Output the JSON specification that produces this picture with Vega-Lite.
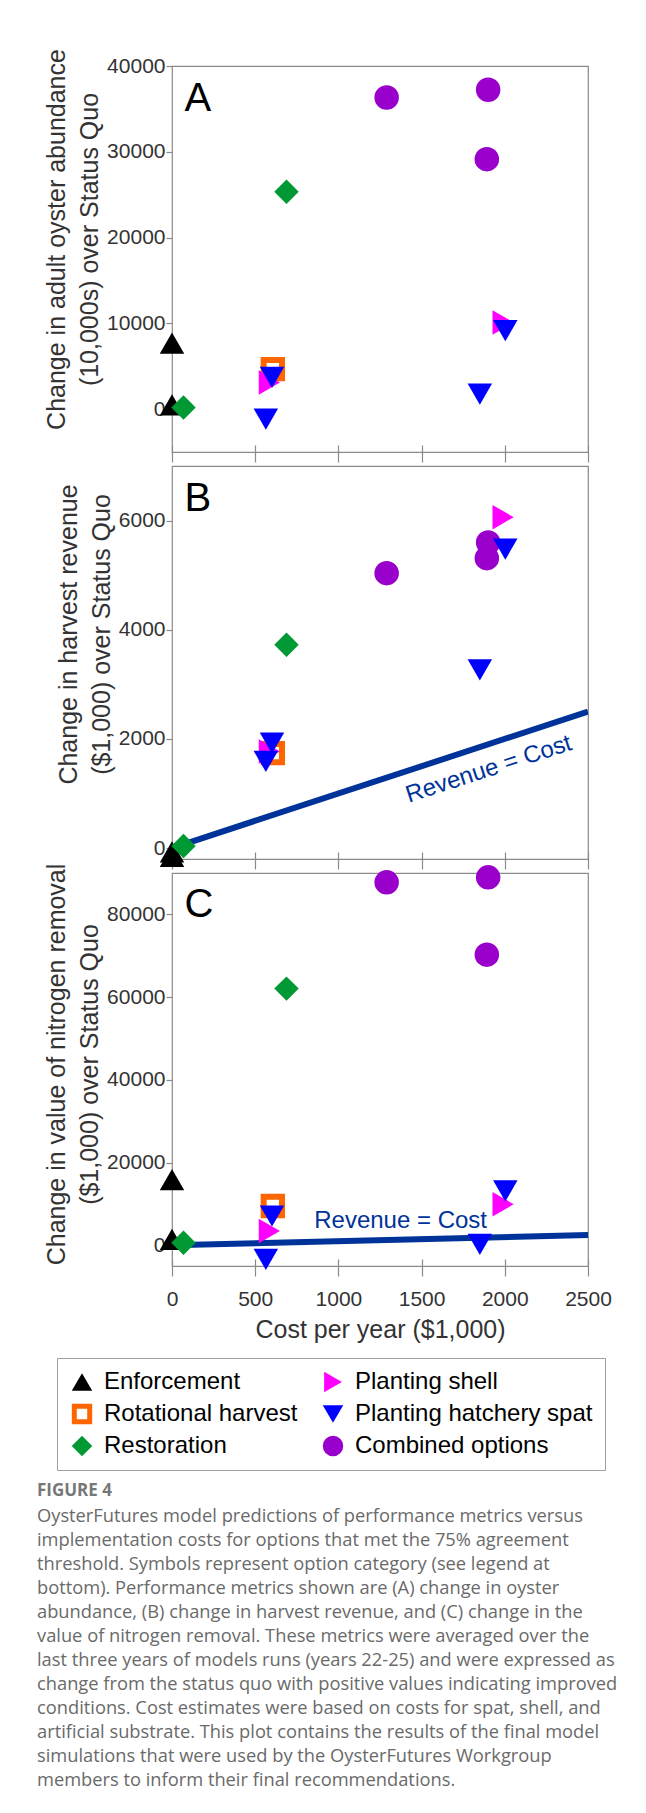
{
  "$schema": "https://vega.github.io/schema/vega-lite/v6.json",
  "padding": {"left": 37, "top": 47, "right": 5, "bottom": 5},
  "background": "white",
  "config": {
    "font": "Liberation Sans",
    "view": {"stroke": "#8a8a8a", "strokeWidth": 1.2},
    "axis": {"grid": false, "labelFlush": false},
    "legend": {
      "orient": "none",
      "legendX": -115,
      "legendY": 1292,
      "columns": 2,
      "title": null,
      "labelFont": "Liberation Sans",
      "labelFontSize": 24,
      "labelColor": "#000000",
      "labelLimit": 400,
      "symbolSize": 420,
      "symbolStrokeWidth": 5,
      "labelOffset": 9,
      "clipHeight": 24,
      "rowPadding": 8,
      "columnPadding": 22,
      "padding": 12,
      "strokeColor": "#a0a0a0"
    }
  },
  "title": {
    "text": "FIGURE 4",
    "subtitle": [
      "OysterFutures model predictions of performance metrics versus",
      "implementation costs for options that met the 75% agreement",
      "threshold. Symbols represent option category (see legend at",
      "bottom). Performance metrics shown are (A) change in oyster",
      "abundance, (B) change in harvest revenue, and (C) change in the",
      "value of nitrogen removal. These metrics were averaged over the",
      "last three years of models runs (years 22-25) and were expressed as",
      "change from the status quo with positive values indicating improved",
      "conditions. Cost estimates were based on costs for spat, shell, and",
      "artificial substrate. This plot contains the results of the final model",
      "simulations that were used by the OysterFutures Workgroup",
      "members to inform their final recommendations."
    ],
    "orient": "bottom",
    "anchor": "start",
    "frame": "group",
    "font": "Open Sans",
    "fontSize": 17,
    "fontWeight": "bold",
    "color": "#777777",
    "subtitleFont": "Open Sans",
    "subtitleFontSize": 18.3,
    "subtitleColor": "#6a6a6a",
    "subtitleLineHeight": 24,
    "subtitlePadding": 8,
    "limit": 700,
    "offset": 12,
    "dx": -135
  },
  "datasets": {
    "options": [
      {"category": "Combined options", "cost": 1290, "A": 36330, "B": 5037, "C": 87750},
      {"category": "Combined options", "cost": 1900, "A": 37230, "B": 5599, "C": 88960},
      {"category": "Combined options", "cost": 1892, "A": 29140, "B": 5311, "C": 70250},
      {"category": "Enforcement", "cost": 0, "A": 7700, "B": -150, "C": 15900},
      {"category": "Enforcement", "cost": 0, "A": 500, "B": -70, "C": 1450},
      {"category": "Restoration", "cost": 69, "A": 200, "B": 40, "C": 630},
      {"category": "Restoration", "cost": 688, "A": 25350, "B": 3725, "C": 62050},
      {"category": "Rotational harvest", "cost": 606, "A": 4660, "B": 1740, "C": 9510},
      {"category": "Planting shell", "cost": 585, "A": 3110, "B": 1771, "C": 3460},
      {"category": "Planting shell", "cost": 1990, "A": 10100, "B": 6062, "C": 9920},
      {"category": "Planting hatchery spat", "cost": 601, "A": 3690, "B": 1923, "C": 7090},
      {"category": "Planting hatchery spat", "cost": 564, "A": -1165, "B": 1588, "C": -3390},
      {"category": "Planting hatchery spat", "cost": 1850, "A": 1750, "B": 3266, "C": 240},
      {"category": "Planting hatchery spat", "cost": 2003, "A": 9140, "B": 5476, "C": 13140}
    ],
    "parity": [
      {"cost": 0, "B": 0, "C": 0},
      {"cost": 2500, "B": 2500, "C": 2500}
    ]
  },
  "spacing": 14,
  "bounds": "flush",
  "vconcat": [
    {
      "width": 416,
      "height": 386,
      "encoding": {
        "x": {"field": "cost", "type": "quantitative", "scale": {"domain": [0, 2500], "nice": false, "zero": false},
          "axis": {"values": [0, 500, 1000, 1500, 2000, 2500], "labels": false, "title": null, "domain": false, "tickSize": 17, "offset": -7, "tickColor": "#8a8a8a", "tickWidth": 1.2}},
        "y": {"field": "A", "type": "quantitative", "scale": {"domain": [-5000, 40000], "nice": false, "zero": false},
          "axis": {"values": [0, 10000, 20000, 30000, 40000], "format": "d", "domain": false, "tickSize": 6, "tickColor": "#8a8a8a", "tickWidth": 1.2,
            "labelFontSize": 21, "labelColor": "#333333", "labelPadding": 1,
            "title": ["Change in adult oyster abundance", "(10,000s) over Status Quo"],
            "titleFontSize": 25, "titleFontWeight": "normal", "titleColor": "#333333", "titleLineHeight": 33, "titlePadding": 4, "titleY": 173}}
      },
      "layer": [
        {
          "data": {"name": "options"},
          "mark": {"type": "point", "size": 600, "strokeWidth": 6, "opacity": 1},
          "encoding": {
            "shape": {"field": "category", "type": "nominal",
              "scale": {"domain": ["Enforcement", "Rotational harvest", "Restoration", "Planting shell", "Planting hatchery spat", "Combined options"],
                "range": ["triangle-up", "M-0.75,-0.75L0.75,-0.75L0.75,0.75L-0.75,0.75Z", "diamond", "triangle-right", "triangle-down", "circle"]}},
            "fill": {"field": "category", "type": "nominal",
              "scale": {"domain": ["Enforcement", "Rotational harvest", "Restoration", "Planting shell", "Planting hatchery spat", "Combined options"],
                "range": ["#000000", "#ffffff", "#009933", "#ff00ff", "#0000ff", "#9900cc"]}},
            "stroke": {"field": "category", "type": "nominal",
              "scale": {"domain": ["Enforcement", "Rotational harvest", "Restoration", "Planting shell", "Planting hatchery spat", "Combined options"],
                "range": ["transparent", "#ff6600", "transparent", "transparent", "transparent", "transparent"]}}
          }
        },
        {
          "data": {"values": [{"cost": 75, "A": 34800, "label": "A"}]},
          "mark": {"type": "text", "align": "left", "baseline": "alphabetic", "fontSize": 40, "color": "#000000"},
          "encoding": {"text": {"field": "label"}}
        }
      ]
    },
    {
      "width": 416,
      "height": 393,
      "encoding": {
        "x": {"field": "cost", "type": "quantitative", "scale": {"domain": [0, 2500], "nice": false, "zero": false},
          "axis": {"values": [0, 500, 1000, 1500, 2000, 2500], "labels": false, "title": null, "domain": false, "tickSize": 17, "offset": -7, "tickColor": "#8a8a8a", "tickWidth": 1.2}},
        "y": {"field": "B", "type": "quantitative", "scale": {"domain": [-200, 7000], "nice": false, "zero": false},
          "axis": {"values": [0, 2000, 4000, 6000], "format": "d", "domain": false, "tickSize": 6, "tickColor": "#8a8a8a", "tickWidth": 1.2,
            "labelFontSize": 21, "labelColor": "#333333", "labelPadding": 1,
            "title": ["Change in harvest revenue", "($1,000) over Status Quo"],
            "titleFontSize": 25, "titleFontWeight": "normal", "titleColor": "#333333", "titleLineHeight": 33, "titlePadding": 4, "titleY": 168}}
      },
      "layer": [
        {
          "data": {"name": "parity"},
          "mark": {"type": "line", "color": "#003399", "strokeWidth": 6, "clip": true},
          "encoding": {}
        },
        {
          "data": {"name": "options"},
          "mark": {"type": "point", "size": 600, "strokeWidth": 6, "opacity": 1},
          "encoding": {
            "shape": {"field": "category", "type": "nominal"},
            "fill": {"field": "category", "type": "nominal"},
            "stroke": {"field": "category", "type": "nominal"}
          }
        },
        {
          "data": {"values": [{"cost": 1904, "B": 1442, "label": "Revenue = Cost"}]},
          "mark": {"type": "text", "align": "center", "baseline": "middle", "fontSize": 24, "angle": -18, "color": "#003399"},
          "encoding": {"text": {"field": "label"}}
        },
        {
          "data": {"values": [{"cost": 75, "B": 6167, "label": "B"}]},
          "mark": {"type": "text", "align": "left", "baseline": "alphabetic", "fontSize": 40, "color": "#000000"},
          "encoding": {"text": {"field": "label"}}
        }
      ]
    },
    {
      "width": 416,
      "height": 393,
      "encoding": {
        "x": {"field": "cost", "type": "quantitative", "scale": {"domain": [0, 2500], "nice": false, "zero": false},
          "axis": {"values": [0, 500, 1000, 1500, 2000, 2500], "format": "d", "domain": false, "tickSize": 17, "offset": -7, "tickColor": "#8a8a8a", "tickWidth": 1.2,
            "labelFontSize": 21, "labelColor": "#333333", "labelPadding": 12,
            "title": "Cost per year ($1,000)", "titleFontSize": 25, "titleFontWeight": "normal", "titleColor": "#333333", "titlePadding": 8}},
        "y": {"field": "C", "type": "quantitative", "scale": {"domain": [-5000, 90000], "nice": false, "zero": false},
          "axis": {"values": [0, 20000, 40000, 60000, 80000], "format": "d", "domain": false, "tickSize": 6, "tickColor": "#8a8a8a", "tickWidth": 1.2,
            "labelFontSize": 21, "labelColor": "#333333", "labelPadding": 1,
            "title": ["Change in value of nitrogen removal", "($1,000) over Status Quo"],
            "titleFontSize": 25, "titleFontWeight": "normal", "titleColor": "#333333", "titleLineHeight": 33, "titlePadding": 4, "titleY": 191}}
      },
      "layer": [
        {
          "data": {"name": "parity"},
          "mark": {"type": "line", "color": "#003399", "strokeWidth": 6},
          "encoding": {}
        },
        {
          "data": {"name": "options"},
          "mark": {"type": "point", "size": 600, "strokeWidth": 6, "opacity": 1},
          "encoding": {
            "shape": {"field": "category", "type": "nominal"},
            "fill": {"field": "category", "type": "nominal"},
            "stroke": {"field": "category", "type": "nominal"}
          }
        },
        {
          "data": {"values": [{"cost": 1374, "C": 5870, "label": "Revenue = Cost"}]},
          "mark": {"type": "text", "align": "center", "baseline": "middle", "fontSize": 24, "color": "#003399"},
          "encoding": {"text": {"field": "label"}}
        },
        {
          "data": {"values": [{"cost": 75, "C": 79440, "label": "C"}]},
          "mark": {"type": "text", "align": "left", "baseline": "alphabetic", "fontSize": 40, "color": "#000000"},
          "encoding": {"text": {"field": "label"}}
        }
      ]
    }
  ]
}
